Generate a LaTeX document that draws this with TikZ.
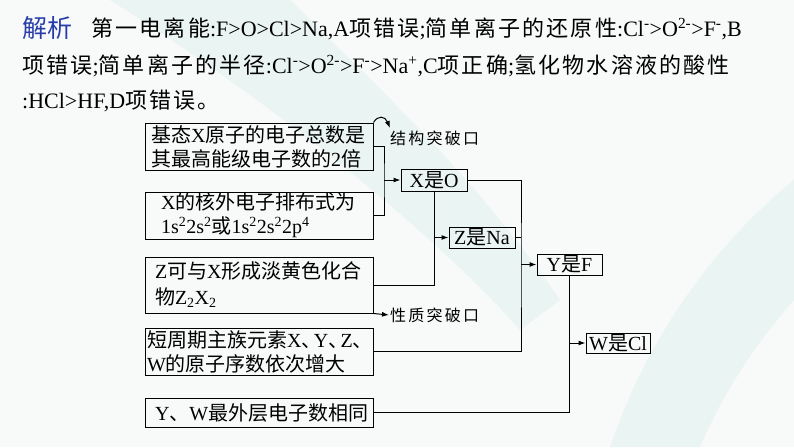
\documentclass[tikz,border=0pt]{standalone}
\usepackage{fontspec}
\setmainfont{Liberation Serif}
\newfontfamily\zh{Noto Sans CJK SC}
\newfontfamily\zhs{Noto Sans CJK SC}[LetterSpace=10]
\newfontfamily\zhl{Noto Sans CJK SC}[LetterSpace=14]
\usetikzlibrary{arrows.meta}
\definecolor{jiexi}{RGB}{40,60,170}
\definecolor{bgbase}{RGB}{248,250,250}
\definecolor{band}{RGB}{234,244,243}
\newcommand{\dunhao}{\makebox[.62em][l]{\zh 、}}

\begin{document}
\begin{tikzpicture}[x=1pt, y=-1pt,
  box/.style={draw, line width=1pt, minimum width=228pt, minimum height=#1, align=left,
              inner ysep=0pt, font=\fontsize{20}{24}\selectfont},
  res/.style={draw, line width=1pt, minimum width=66pt, minimum height=22pt, inner sep=0pt,
              font=\fontsize{20}{24}\selectfont},
  ln/.style={line width=1pt},
  ar/.style={line width=1pt, -{Latex[length=7pt,width=5pt]}},
  tip/.style={anchor=west, inner sep=1pt, font=\fontsize{16}{18}\zhl},
  para/.style={anchor=base west, inner sep=0pt, font=\fontsize{22}{26}\selectfont},
]
\useasboundingbox (0,0) rectangle (794,447);
\fill[bgbase] (0,0) rectangle (794,447);
\fill[band] (110,0) -- (290,0) .. controls (380,90) and (470,170) .. (560,300)
  -- (520,330) .. controls (450,250) and (300,120) .. cycle;
\fill[band] (610,447) .. controls (650,330) and (720,240) .. (794,180)
  -- (794,300) .. controls (750,350) and (720,400) .. (700,447) -- cycle;

\node[para, font=\fontsize{25}{28}\zh, text=jiexi] (jx) at (22,37) {解析};
\node[para] (p1) at (91,36) {{\zhs 第一电离能}:F>O>Cl>Na,A{\zhs 项错误};{\zhs 简单离子的还原性}:Cl\textsuperscript{-}>O\textsuperscript{2-}>F\textsuperscript{-},B};
\node[para] (p2) at (22,73) {{\zhs 项错误};{\zhs 简单离子的半径}:Cl\textsuperscript{-}>O\textsuperscript{2-}>F\textsuperscript{-}>Na\textsuperscript{+},C{\zhs 项正确};{\zhs 氢化物水溶液的酸性}};
\node[para] (p3) at (22,108) {:HCl>HF,D{\zhs 项错误。}};

\node[box=47pt, text width=216pt, inner xsep=6pt] (b1) at (259,146.5)
  {{\zh 基态}X{\zh 原子的电子总数是}\\{\zh 其最高能级电子数的}2{\zh 倍}};
\node[box=47pt, text width=196pt, inner xsep=16pt] (b2) at (259,215.5)
  {X{\zh 的核外电子排布式为}\\1s\textsuperscript{2}2s\textsuperscript{2}{\zh 或}1s\textsuperscript{2}2s\textsuperscript{2}2p\textsuperscript{4}};
\node[box=56pt, text width=208pt, inner xsep=10pt] (b3) at (259,285)
  {Z{\zh 可与}X{\zh 形成淡黄色化合}\\[2pt]{\zh 物}Z\textsubscript{2}X\textsubscript{2}};
\node[box=47pt, text width=224pt, inner xsep=2pt] (b4) at (259,351.5)
  {{\zh 短周期主族元素}X\dunhao Y\dunhao Z\dunhao\\W{\zh 的原子序数依次增大}};
\node[box=29pt, text width=208pt, inner xsep=10pt] (b5) at (259,412.5)
  {Y{\zh 、}W{\zh 最外层电子数相同}};

\node[res] (xo) at (434,180)   {X{\zh 是}O};
\node[res, minimum height=21pt] (zn) at (482,237.5) {Z{\zh 是}Na};
\node[res, minimum width=65pt, minimum height=21pt] (yf) at (569.5,264.5) {Y{\zh 是}F};
\node[res, minimum width=64pt, minimum height=20pt] (wc) at (618,343) {W{\zh 是}Cl};

\node[tip] (s1) at (389,138) {结构突破口};
\node[tip] (s2) at (389,315) {性质突破口};

\coordinate (j1) at (384,180);
\coordinate (j2) at (521,264.5);
\coordinate (c1) at (390,128);

\draw[ln] (b1.east) -| (j1) |- (b2.east);
\draw[ar] (j1) -- (xo.west);
\draw[ln] (xo.south) |- (b3.east);
\draw[ar] (xo.south |- zn.west) -- (zn.west);
\draw[ln] (xo.east) -| (j2) |- (b4.east);
\draw[ln] (zn.east) -- (zn.east -| j2);
\draw[ar] (j2) -- (yf.west);
\draw[ln] (yf.south) |- (b5.east);
\draw[ar] (yf.south |- wc.west) -- (wc.west);
\draw[ar] (b1.north east) .. controls (378,115) and (385,116) .. (c1);
\draw[ar] (b3.south east) -- (s2.west);
\end{tikzpicture}
\end{document}
